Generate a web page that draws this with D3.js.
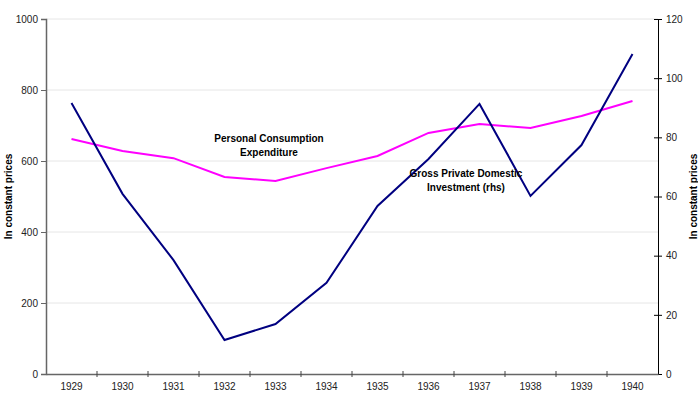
<!DOCTYPE html>
<html>
<head>
<meta charset="utf-8">
<script src="https://cdn.jsdelivr.net/npm/d3@7"></script>
<style>
  body { margin: 0; background: #fff; }
  text { font-family: "Liberation Sans", Arial, sans-serif; }
</style>
</head>
<body>
<div id="chart"></div>
<script>
const WIDTH = 698, HEIGHT = 408;
const MARGIN = { top: 19, right: 40, bottom: 34, left: 46 };
const INNER_WIDTH = WIDTH - MARGIN.left - MARGIN.right;
const INNER_HEIGHT = HEIGHT - MARGIN.top - MARGIN.bottom;

const years = ["1929", "1930", "1931", "1932", "1933", "1934", "1935", "1936", "1937", "1938", "1939", "1940"];
const consumption = [662, 628, 608, 555, 544, 580, 614, 679, 704, 693, 727, 769];
const investment = [91.6, 60.9, 38.5, 11.5, 16.9, 30.8, 56.8, 72.7, 91.3, 60.2, 77.4, 108.2];
const leftTicks = [0, 200, 400, 600, 800, 1000];
const rightTicks = [0, 20, 40, 60, 80, 100, 120];

const COLOR_PCE = "#ff00ff";
const COLOR_GPDI = "#000080";

const svg = d3.select("#chart")
    .append("svg")
    .attr("width", WIDTH)
    .attr("height", HEIGHT)
    .append("g")
    .attr("transform", `translate(${MARGIN.left},${MARGIN.top})`);

const x = d3.scaleBand().domain(years).range([0, INNER_WIDTH]);
const yLeft = d3.scaleLinear().domain([0, 1000]).range([INNER_HEIGHT, 0]);
const yRight = d3.scaleLinear().domain([0, 120]).range([INNER_HEIGHT, 0]);
const cx = d => x(d) + x.bandwidth() / 2;

// Gridlines
svg.selectAll("line.grid")
    .data(leftTicks.slice(1))
    .join("line")
    .attr("class", "grid")
    .attr("x1", 0)
    .attr("x2", INNER_WIDTH)
    .attr("y1", d => yLeft(d))
    .attr("y2", d => yLeft(d))
    .attr("stroke", "#e6e6e6")
    .attr("stroke-width", 1);

// Axes
const leftAxis = svg.append("g")
    .call(d3.axisLeft(yLeft).tickValues(leftTicks).tickFormat(d3.format("d")).tickSize(5).tickPadding(3));
leftAxis.select(".domain").attr("stroke", "#666").attr("stroke-width", 1.5);
leftAxis.selectAll(".tick line").attr("stroke", "#666");

const rightAxis = svg.append("g")
    .attr("transform", `translate(${INNER_WIDTH},0)`)
    .call(d3.axisRight(yRight).tickValues(rightTicks).tickSize(4).tickPadding(4));
rightAxis.select(".domain").attr("stroke", "#000");
rightAxis.selectAll(".tick line").attr("x1", -4).attr("stroke", "#000");

const bottomAxis = svg.append("g")
    .attr("transform", `translate(0,${INNER_HEIGHT})`)
    .call(d3.axisBottom(x).tickSize(0).tickPadding(9));
bottomAxis.select(".domain").attr("stroke", "#666").attr("stroke-width", 1.5);

// Tick marks between categories
svg.selectAll("line.xtick")
    .data(years.slice(1))
    .join("line")
    .attr("class", "xtick")
    .attr("x1", d => x(d))
    .attr("x2", d => x(d))
    .attr("y1", INNER_HEIGHT - 3)
    .attr("y2", INNER_HEIGHT + 3)
    .attr("stroke", "#444");

svg.selectAll(".tick text").style("font-size", "10px").attr("fill", "#222");

// Lines
svg.append("path")
    .datum(consumption)
    .attr("fill", "none")
    .attr("stroke", COLOR_PCE)
    .attr("stroke-width", 2)
    .attr("d", d3.line().x((d, i) => cx(years[i])).y(d => yLeft(d)));

svg.append("path")
    .datum(investment)
    .attr("fill", "none")
    .attr("stroke", COLOR_GPDI)
    .attr("stroke-width", 2)
    .attr("d", d3.line().x((d, i) => cx(years[i])).y(d => yRight(d)));

// Axis titles
svg.append("text")
    .attr("transform", `translate(${-34},${INNER_HEIGHT / 2}) rotate(-90)`)
    .attr("text-anchor", "middle")
    .style("font-size", "10px")
    .style("font-weight", "bold")
    .text("In constant prices");

svg.append("text")
    .attr("transform", `translate(${INNER_WIDTH + 39},${INNER_HEIGHT / 2}) rotate(-90)`)
    .attr("text-anchor", "middle")
    .style("font-size", "10px")
    .style("font-weight", "bold")
    .text("In constant prices");

// Series labels
const notes = [
    { lines: ["Personal Consumption", "Expenditure"], x: 269 - MARGIN.left, y: 142 - MARGIN.top },
    { lines: ["Gross Private Domestic", "Investment (rhs)"], x: 466 - MARGIN.left, y: 177 - MARGIN.top }
];
notes.forEach(n => {
    n.lines.forEach((t, i) => {
        svg.append("text")
            .attr("x", n.x)
            .attr("y", n.y + i * 14)
            .attr("text-anchor", "middle")
            .style("font-size", "10px")
            .style("font-weight", "bold")
            .text(t);
    });
});
</script>
</body>
</html>
